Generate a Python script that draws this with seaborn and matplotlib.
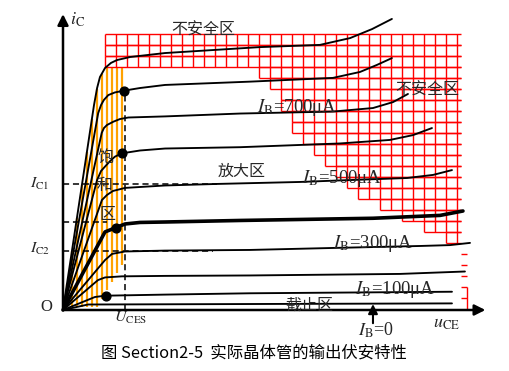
import numpy as np
import pandas as pd
import seaborn as sns
import matplotlib.pyplot as plt
from matplotlib.collections import LineCollection

# output characteristics (u_CE in V, i_C in mA)
ib_levels = [900, 800, 700, 600, 500, 400, 300, 200, 100, 0]

u_900 = [0, 1.41, 1.55, 1.68, 1.91, 2.18, 2.45, 3.05, 4.64, 8.95, 11.68, 13.05, 14.05, 14.95]
i_900 = [0, 9.32, 10.09, 10.59, 11.0, 11.23, 11.36, 11.5, 11.68, 11.95, 12.05, 12.36, 12.77, 13.23]
u_800 = [0, 1.60, 1.73, 1.86, 2.06, 2.36, 2.77, 3.5, 4.64, 8.5, 12.27, 13.5, 14.27, 14.95]
i_800 = [0, 8.95, 9.32, 9.55, 9.77, 9.89, 9.97, 10.09, 10.23, 10.38, 10.55, 10.82, 11.14, 11.45]
u_700 = [0, 1.76, 1.86, 2.0, 2.29, 2.59, 2.97, 4.64, 8.05, 12.27, 14.09, 15.0, 15.68]
i_700 = [0, 8.05, 8.27, 8.41, 8.56, 8.68, 8.75, 8.80, 8.93, 9.02, 9.18, 9.45, 9.82]
u_600 = [0, 1.55, 1.73, 1.91, 2.14, 2.36, 2.67, 3.5, 4.64, 8.05, 12.59, 14.86, 15.91, 16.77]
i_600 = [0, 5.91, 6.32, 6.52, 6.77, 6.97, 7.12, 7.25, 7.34, 7.40, 7.57, 7.73, 7.95, 8.27]
u_500 = [0, 1.77, 2.0, 2.27, 2.82, 4.64, 7.0, 10.77, 12.59, 15.64, 16.82, 17.68]
i_500 = [0, 5.0, 5.23, 5.41, 5.55, 5.66, 5.73, 5.82, 5.89, 6.0, 6.14, 6.36]
u_400 = [0, 1.91, 2.14, 2.41, 2.82, 3.5, 4.64, 8.05, 14.09, 17.14, 18.18]
i_400 = [0, 3.55, 3.64, 3.75, 3.91, 3.98, 4.0, 4.07, 4.17, 4.3, 4.5]
u_300 = [0, 1.91, 2.23, 2.82, 4.64, 8.5, 12.27, 16.23, 17.59, 18.5]
i_300 = [0, 2.27, 2.55, 2.66, 2.70, 2.73, 2.82, 2.91, 2.95, 3.05]
u_200 = [0, 1.59, 1.91, 2.68, 4.64, 8.5, 15.32, 18.27]
i_200 = [0, 1.36, 1.48, 1.53, 1.55, 1.57, 1.64, 1.75]
u_100 = [0, 1.45, 1.91, 4.64, 8.5, 17.68]
i_100 = [0, 0.59, 0.65, 0.70, 0.76, 0.83]
u_0 = [0, 1.14, 4.64, 17.68]
i_0 = [0, 0.25, 0.26, 0.30]

# knee points marked with dots
dot_u = [2.77, 2.67, 2.41, 1.95]
dot_i = [9.97, 7.12, 3.75, 0.65]

# reference levels
ic1 = 5.73
ic2 = 2.68
ic_mid = 3.98
u_ces = 2.82

# unsafe region: row bottoms (mA) and where each row starts (V), bottom row first
grid_i = [3.05 + 0.5 * k for k in range(19)]
grid_u = [17.4, 16.4, 15.4, 14.4, 13.4, 12.9, 12.4, 11.9, 11.4, 10.9,
          10.4, 10.4, 9.9, 9.9, 9.4, 8.9, 1.9, 1.9, 1.9]

curves = [(u_900, i_900), (u_800, i_800), (u_700, i_700), (u_600, i_600),
          (u_500, i_500), (u_400, i_400), (u_300, i_300), (u_200, i_200),
          (u_100, i_100), (u_0, i_0)]
rows = []
for ib, (us, iis) in zip(ib_levels, curves):
    for n, (u, i) in enumerate(zip(us, iis)):
        rows.append({"IB": ib, "n": n, "u": u, "i": i})
df = pd.DataFrame(rows)

sns.set_theme(style="white")
plt.rcParams["mathtext.fontset"] = "stix"
serif = ["Liberation Serif", "DejaVu Serif"]
cjk = ["Noto Sans CJK SC", "DejaVu Sans"]

fig = plt.figure(figsize=(5.09, 3.71), dpi=100)
ax = fig.add_axes([0, 0, 1, 1])
ax.set_xlim(-63 / 22, 446 / 22)
ax.set_ylim(-61 / 22, 310 / 22)
ax.axis("off")

# saturation hatching
hx = np.arange(0.18, 2.7, 0.227)
htop = np.minimum(11.05, np.interp(hx, u_900, i_900))
hbot = np.maximum(0.15, 0.15 + (hx - 1.55) * 1.7)
ax.vlines(hx, hbot, htop, color="#ffa200", lw=1.6, zorder=1)

# unsafe region grid
segs = []
right = 18.1
for b, s in zip(grid_i, grid_u):
    t = b + 0.5
    segs.append([(s, b), (right, b)])
    segs.append([(s, t), (right, t)])
    for k in range(40):
        x = 1.9 + 0.5 * k
        if x >= s - 1e-6 and x <= 18.0:
            segs.append([(x, b), (x, t)])
for y in [2.55, 2.05, 1.55, 1.05, 0.55]:
    segs.append([(18.1, y), (18.35, y)])
segs.append([(18.35, 0), (18.35, 1.05)])
ax.add_collection(LineCollection(segs, colors="#ff0000", linewidths=1.0, zorder=1))

# characteristic curves
for ib in ib_levels:
    sub = df[df["IB"] == ib]
    sns.lineplot(data=sub, x="u", y="i", sort=False, estimator=None, ax=ax,
                 color="black", lw=2.6 if ib == 400 else 1.35, zorder=3)
ax.scatter(dot_u, dot_i, s=40, color="black", zorder=4)

# dashed guides
dash = (0, (4, 2.5))
ax.plot([0, 7.0], [ic1, ic1], color="black", lw=1.1, ls=dash, zorder=2)
ax.plot([0, 2.0], [ic_mid, ic_mid], color="black", lw=1.1, ls=dash, zorder=2)
ax.plot([0, 6.8], [ic2, ic2], color="black", lw=1.1, ls=dash, zorder=2)
ax.plot([u_ces, u_ces], [0, 9.97], color="black", lw=1.1, ls=dash, zorder=2)

# axes with arrows
arrow = dict(arrowstyle="-|>", color="black", lw=1.8, mutation_scale=16,
             shrinkA=0, shrinkB=0)
ax.annotate("", xy=(0, 13.45), xytext=(0, 0), arrowprops=arrow)
ax.annotate("", xy=(19.2, 0), xytext=(0, 0), arrowprops=arrow)
ax.annotate("", xy=(14.09, 0.27), xytext=(14.09, -0.6),
            arrowprops=dict(arrowstyle="-|>", color="black", lw=1.5,
                            mutation_scale=14, shrinkA=0, shrinkB=0))

# labels
ax.text(0.3, 13.2, r"$i_{\mathrm{C}}$", fontsize=13, ha="left", va="center", family=serif)
ax.text(-1.05, ic1, r"$I_{\mathrm{C1}}$", fontsize=11.5, ha="center", va="center", family=serif)
ax.text(-1.05, ic2 + 0.08, r"$I_{\mathrm{C2}}$", fontsize=11.5, ha="center", va="center", family=serif)
ax.text(-0.77, 0.14, "O", fontsize=12, ha="center", va="center", family=serif)
ax.text(3.09, -0.34, r"$U_{\mathrm{CES}}$", fontsize=11.5, ha="center", va="center", family=serif)
ax.text(17.41, -0.62, r"$u_{\mathrm{CE}}$", fontsize=13, ha="center", va="center", family=serif)
ax.text(14.2, -0.9, r"$I_{\mathrm{B}}$=0", fontsize=13, ha="center", va="center", family=serif)

ib_lab = ["700", "500", "300", "100"]
ib_lab_u = [8.82, 10.86, 12.27, 13.27]
ib_lab_i = [9.2, 5.97, 3.02, 0.93]
for t, x, y in zip(ib_lab, ib_lab_u, ib_lab_i):
    ax.text(x, y, r"$I_{\mathrm{B}}$=" + t + "μA", fontsize=13.5, ha="left",
            va="center", family=serif, zorder=5)

ax.text(6.36, 12.73, "不安全区", fontsize=11.5, ha="center", va="center", family=cjk, zorder=5)
ax.text(16.55, 10.0, "不安全区", fontsize=11.5, ha="center", va="center", family=cjk, zorder=5)
ax.text(8.14, 6.32, "放大区", fontsize=11.5, ha="center", va="center", family=cjk, zorder=5)
ax.text(11.18, 0.23, "截止区", fontsize=11.5, ha="center", va="center", family=cjk, zorder=5)
for ch, x, y in zip("饱和区", [1.95, 1.91, 2.0], [6.95, 5.68, 4.36]):
    ax.text(x, y, ch, fontsize=11.5, ha="center", va="center", family=cjk, zorder=5)

ax.text(8.68, -1.95, "图 Section2-5  实际晶体管的输出伏安特性", fontsize=11.8,
        ha="center", va="center", family=cjk, color="black")

fig.savefig("out.png", dpi=100)
